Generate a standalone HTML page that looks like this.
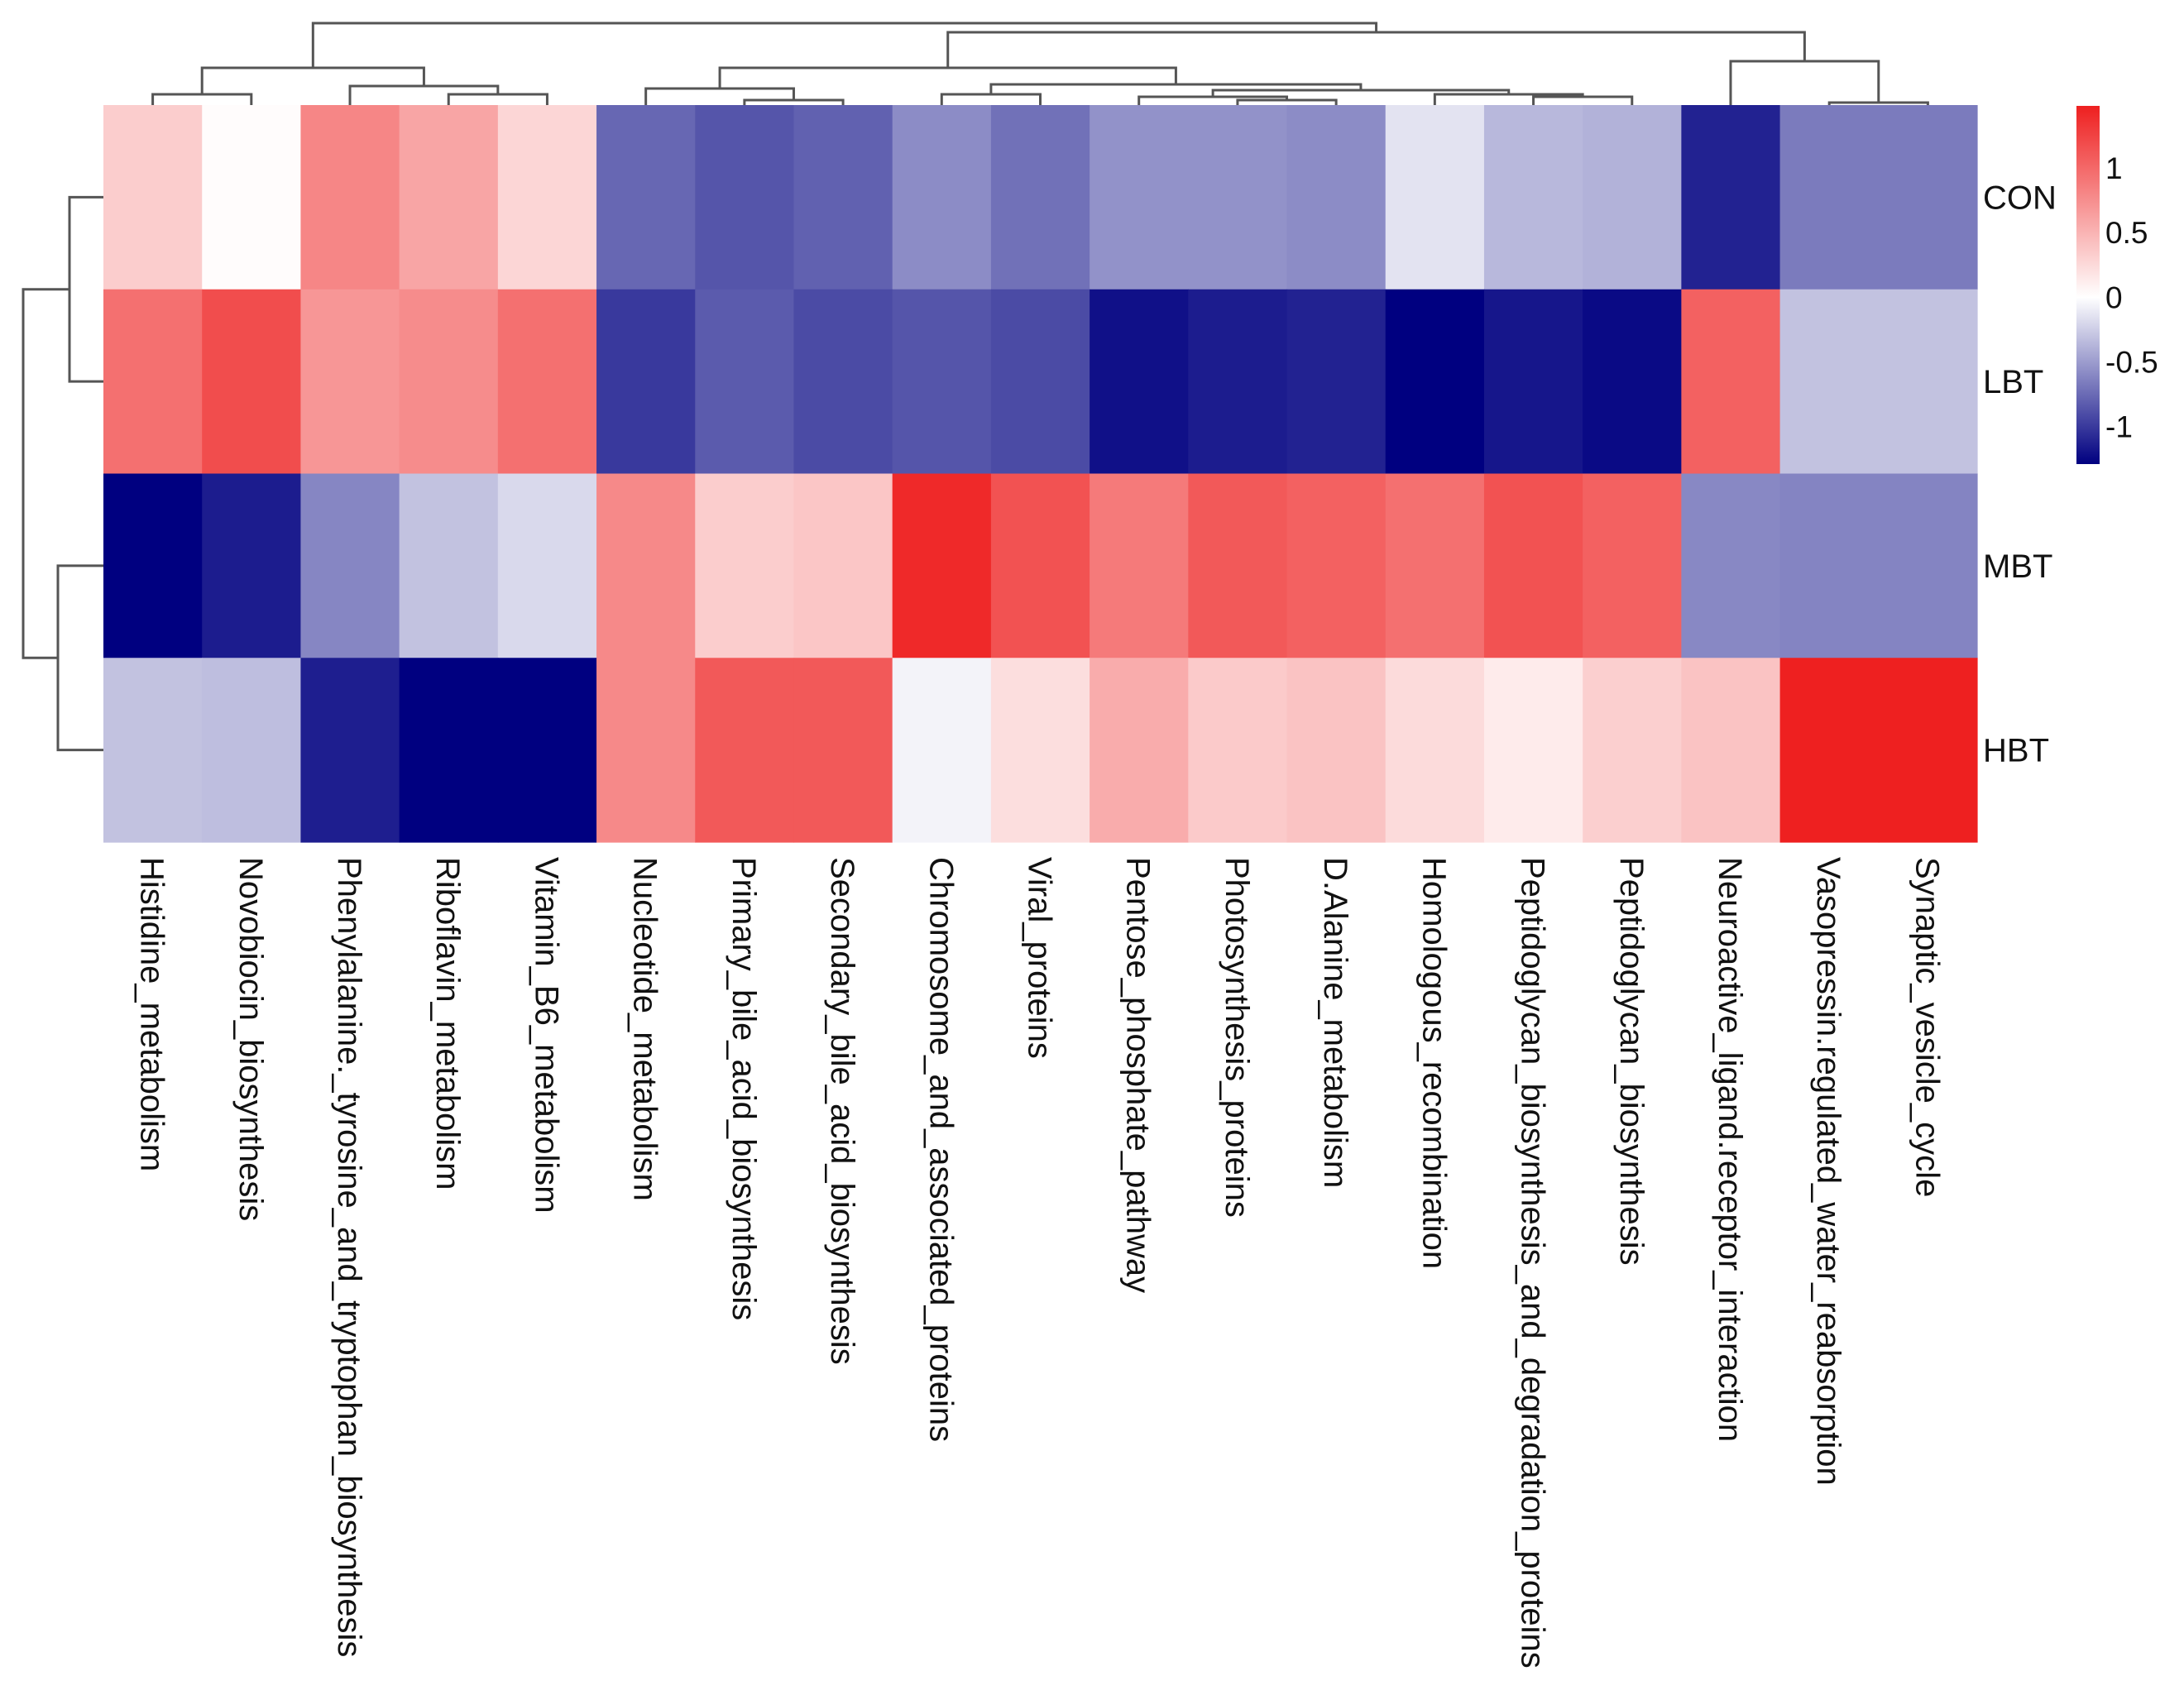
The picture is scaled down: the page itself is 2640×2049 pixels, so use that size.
<!DOCTYPE html>
<html><head><meta charset="utf-8">
<style>html,body{margin:0;padding:0;background:#fff}svg{display:block}</style>
</head><body>
<svg id="chart" width="2640" height="2049" viewBox="0 0 2640 2049" xmlns="http://www.w3.org/2000/svg" font-family="Liberation Sans, Arial, sans-serif">
<g id="dendro" fill="none" stroke="#555" stroke-width="3"></g>
<g id="cells"></g>
<g id="collabels"></g>
<g id="rowlabels"></g>
<g id="legend"></g>
</svg>
<script>
const columns = ["Histidine_metabolism","Novobiocin_biosynthesis","Phenylalanine._tyrosine_and_tryptophan_biosynthesis","Riboflavin_metabolism","Vitamin_B6_metabolism","Nucleotide_metabolism","Primary_bile_acid_biosynthesis","Secondary_bile_acid_biosynthesis","Chromosome_and_associated_proteins","Viral_proteins","Pentose_phosphate_pathway","Photosynthesis_proteins","D.Alanine_metabolism","Homologous_recombination","Peptidoglycan_biosynthesis_and_degradation_proteins","Peptidoglycan_biosynthesis","Neuroactive_ligand.receptor_interaction","Vasopressin.regulated_water_reabsorption","Synaptic_vesicle_cycle"];
const rows = ["CON","LBT","MBT","HBT"];
const valsCON = [0.33,0.02,0.80,0.60,0.27,-0.77,-0.86,-0.80,-0.58,-0.72,-0.55,-0.55,-0.58,-0.14,-0.36,-0.39,-1.12,-0.67,-0.67];
const valsLBT = [0.95,1.18,0.70,0.76,0.95,-1.00,-0.83,-0.91,-0.86,-0.91,-1.21,-1.15,-1.12,-1.29,-1.18,-1.24,1.05,-0.31,-0.31];
const valsMBT = [-1.29,-1.15,-0.61,-0.31,-0.19,0.78,0.33,0.38,1.42,1.15,0.88,1.10,1.05,0.95,1.15,1.05,-0.60,-0.62,-0.62];
const valsHBT = [-0.31,-0.33,-1.14,-1.29,-1.29,0.78,1.10,1.10,-0.06,0.22,0.55,0.35,0.40,0.24,0.13,0.32,0.40,1.48,1.48];
const legendTicks = [1,0.5,0,-0.5,-1];
const vmin = -1.29, vmax = 1.48;

const NS = "http://www.w3.org/2000/svg";
const X0 = 125, X1 = 2390, Y0 = 127, Y1 = 1018;
const cw = (X1 - X0) / columns.length, rh = (Y1 - Y0) / rows.length;
const xc = i => X0 + cw * (i + 0.5);
const yc = r => Y0 + rh * (r + 0.5);
function color(v){
  const lo=[0,0,128], mid=[255,255,255], hi=[238,32,32];
  let c;
  if(v>=0){const f=Math.min(v/vmax,1);c=mid.map((m,k)=>m+(hi[k]-m)*f);}
  else{const f=Math.min(v/vmin,1);c=mid.map((m,k)=>m+(lo[k]-m)*f);}
  return "rgb("+c.map(Math.round).join(",")+")";
}
function mk(tag, attrs, parent){const e=document.createElementNS(NS,tag);for(const k in attrs)e.setAttribute(k,attrs[k]);parent.appendChild(e);return e;}

const cells = document.getElementById("cells");
const allVals = [valsCON, valsLBT, valsMBT, valsHBT];
allVals.forEach((arr, r) => arr.forEach((v, i) => {
  const e = mk("rect",{x:X0+cw*i,y:Y0+rh*r,width:cw+0.6,height:rh+0.6,fill:color(v)},cells);
  
  
}));

const cl = document.getElementById("collabels");
columns.forEach((c, i) => {
  const t = mk("text",{transform:"translate("+(xc(i)-14)+",1036) rotate(90)","font-size":40,fill:"#111"},cl);
  t.textContent = c;
  
  
});
const rl = document.getElementById("rowlabels");
rows.forEach((r, j) => {
  const t = mk("text",{x:2397,y:yc(j)+14,"font-size":40,fill:"#111"},rl);
  t.textContent = r;
  
  
});

// legend
const lg = document.getElementById("legend");
const L0 = 128, L1 = 561;
const defs = mk("defs",{},lg);
const grad = mk("linearGradient",{id:"g",x1:0,y1:1,x2:0,y2:0},defs);
[vmin,0,vmax].forEach(v=>mk("stop",{offset:(v-vmin)/(vmax-vmin),"stop-color":color(v)},grad));
const bar = mk("rect",{x:2510,y:L0,width:28,height:L1-L0,fill:"url(#g)"},lg);


const ly = v => L1 - (v - vmin) / (vmax - vmin) * (L1 - L0);
legendTicks.forEach(v => {
  const t = mk("text",{x:2545,y:ly(v)+13,"font-size":37,fill:"#111"},lg);
  t.textContent = String(v);
  
  
});

// dendrograms (tree shapes)
const dg = document.getElementById("dendro");
function seg(pts){mk("polyline",{points:pts.map(p=>p.join(",")).join(" ")},dg);}
function link(xa,ya,xb,yb,h){seg([[xa,ya],[xa,h],[xb,h],[xb,yb]]);}
// top
link(xc(0),Y0,xc(1),Y0,114);
link(xc(3),Y0,xc(4),Y0,114);
link(xc(2),Y0,(xc(3)+xc(4))/2,114,104);
link((xc(0)+xc(1))/2,114,(xc(2)+(xc(3)+xc(4))/2)/2,104,82);
link(xc(6),Y0,xc(7),Y0,121);
link(xc(5),Y0,(xc(6)+xc(7))/2,121,107);
link(xc(8),Y0,xc(9),Y0,114);
link(xc(11),Y0,xc(12),Y0,121);
link(xc(10),Y0,(xc(11)+xc(12))/2,121,117);
link(xc(14),Y0,xc(15),Y0,117);
link(xc(13),Y0,(xc(14)+xc(15))/2,117,114);
const a1=(xc(10)+(xc(11)+xc(12))/2)/2, a2=(xc(13)+(xc(14)+xc(15))/2)/2;
link(a1,117,a2,114,109);
const b1=(xc(8)+xc(9))/2, b2=(a1+a2)/2;
link(b1,114,b2,109,102);
const c1=(xc(5)+(xc(6)+xc(7))/2)/2, c2=(b1+b2)/2;
link(c1,107,c2,102,82);
link(xc(17),Y0,xc(18),Y0,124);
const d1=(c1+c2)/2, d2=(xc(16)+(xc(17)+xc(18))/2)/2;
link(xc(16),Y0,(xc(17)+xc(18))/2,124,74);
link(d1,82,d2,74,39);
const e1=((xc(0)+xc(1))/2+(xc(2)+(xc(3)+xc(4))/2)/2)/2;
link(e1,82,(d1+d2)/2,39,28);
// left
seg([[X0,yc(0)],[84,yc(0)],[84,yc(1)],[X0,yc(1)]]);
seg([[X0,yc(2)],[70,yc(2)],[70,yc(3)],[X0,yc(3)]]);
seg([[84,(yc(0)+yc(1))/2],[28,(yc(0)+yc(1))/2],[28,(yc(2)+yc(3))/2],[70,(yc(2)+yc(3))/2]]);
</script>
</body></html>
